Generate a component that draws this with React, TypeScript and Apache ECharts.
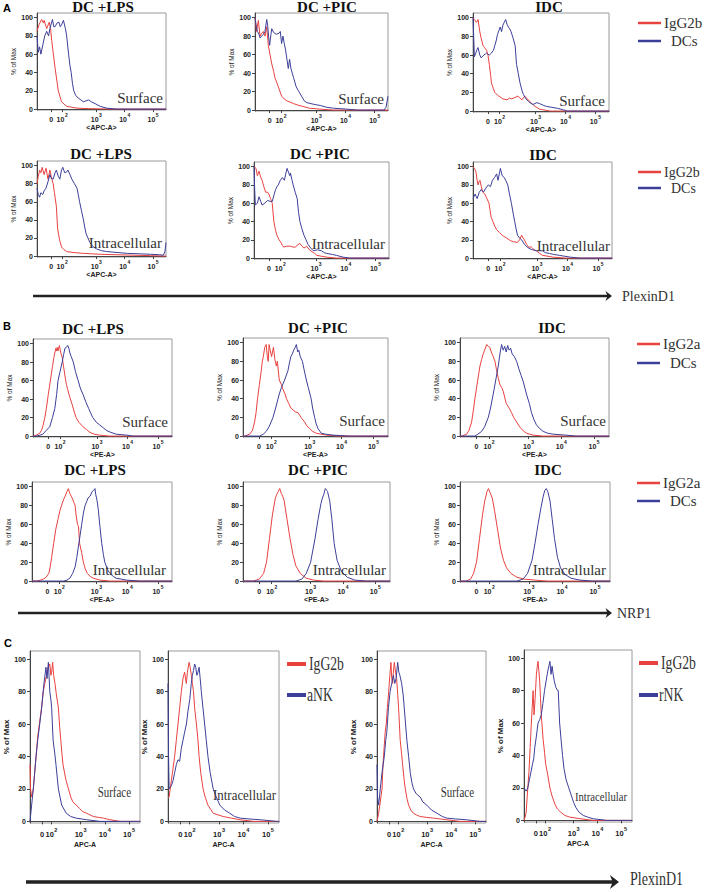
import React, { useEffect, useRef } from "react";
import * as echarts from "echarts";

// ---------- axis ticks ----------
const X_TICK_POS = [11, 19.5, 46, 68, 90];
const X_TICK_BASE = ["0", "10", "10", "10", "10"];
const X_TICK_EXP = ["", "2", "3", "4", "5"];
const Y_TICKS = [0, 20, 40, 60, 80, 100];

// ---------- data: [channel (0-100 display scale), % of Max] ----------
// Panel A, surface
const a1LpsIso = [[0,85],[1.5,92],[3.6,98],[5,94],[5.5,97],[7.5,88],[9.5,95],[10.5,88],[11.4,75],[12.5,62],[14,45],[15.5,30],[16.5,20],[19,8],[23,3],[27,2],[31,1],[40,0.5],[60,0],[100,0]];
const a1LpsDc = [[0,80],[1,62],[2,68],[3,60],[4.5,70],[6,80],[7.5,85],[9,80],[10,88],[12,98],[13,90],[14,90],[15.5,94],[17,95],[18,90],[19,92],[20.5,97],[22,88],[23,80],[24.5,60],[25.5,48],[26.5,40],[27.5,28],[28.5,20],[30,15],[32,12],[34,10],[36,8],[38,9],[40,10],[42,8],[45,6],[49,3],[54,1],[62,0],[100,0]];
const a1PicIso = [[0,100],[1.2,85],[2.5,97],[3.8,80],[5,83],[6.3,85],[7.5,80],[8.8,90],[10,70],[11.3,60],[12.6,50],[14,42],[15,35],[17.6,25],[20,15],[22,12],[24,10],[29,7],[33,5],[36,4],[41,2],[49,1],[59,0],[100,0]];
const a1PicDc = [[0,100],[1,90],[1.8,85],[3,82],[3.8,78],[5,80],[6.3,82],[7.5,85],[8.8,98],[9.5,92],[10.2,80],[11,70],[12,82],[12.6,88],[14,84],[16,82],[18,83],[19,85],[20,72],[21,80],[22,72],[23,65],[24,55],[25,45],[26,55],[27,45],[29,35],[31,25],[33,20],[35,15],[37,10],[39,8],[42,7],[45,6],[49,5],[54,3],[59,2],[69,1],[77,0],[97,0],[98.5,3],[100,15]];
const a1IdcIso = [[0,100],[1,98],[2.5,95],[3.7,98],[5,85],[6,78],[7.4,70],[8.5,68],[10,65],[11,60],[12,50],[13,38],[13.6,30],[15,24],[16,20],[18,17],[20,15],[22,13],[25,12],[27,14],[28,13],[30,14],[33,16],[34.5,14],[36,12],[38,16],[40,13],[42,10],[44,7],[45.7,5],[49,2],[53,1],[57,0],[100,0]];
const a1IdcDc = [[0,100],[0.5,80],[1,58],[2,62],[3,66],[3.7,68],[5,60],[6,57],[8,60],[10,62],[12,60],[13.5,62],[15,65],[16,70],[17,75],[18,82],[19,86],[20,90],[21,85],[22,92],[23,95],[24,98],[25,93],[26,90],[27,88],[28,85],[29.5,78],[31,70],[32,50],[33.3,40],[34.6,30],[36,22],[37,18],[39,13],[41,10],[44,7],[47,9],[49,8],[52,6],[54,5],[58,4],[62,3],[67,1],[69,0],[100,0]];
// Panel A, intracellular
const a2LpsIso = [[0,80],[1,88],[2,95],[3,92],[4,98],[5.5,90],[7,97],[8.5,85],[10,95],[11,88],[12.5,80],[13.5,70],[15,55],[16,30],[17.5,18],[19,10],[21,7],[23,5],[28,4],[36,3],[49,2],[62,1.5],[75,1],[88,0.5],[100,0]];
const a2LpsDc = [[0,75],[1,68],[2,65],[3,70],[4.5,68],[5.5,72],[7,75],[8.5,82],[10,90],[11,86],[12.5,85],[14,92],[15,95],[16.5,88],[17.7,85],[19,95],[20,98],[21.5,92],[23,93],[24,95],[25.5,90],[27,85],[29,80],[31,75],[32,68],[33,60],[34.5,50],[36,40],[37,32],[38,25],[39.5,20],[41,15],[43,11],[46,8],[50,6],[54,5],[62,4],[70,3],[80,2.5],[88,2],[95,1.5],[98,1],[99.2,5],[100,15]];
const a2PicIso = [[0,100],[1.5,98],[2.5,90],[3.7,95],[5,88],[6,85],[7.3,78],[8.6,72],[10,72],[11,70],[12.3,65],[13.5,60],[14.7,40],[16,30],[17,25],[18.5,20],[19.6,18],[21,14],[22,12],[24,13],[27,13],[29,12],[30.6,12],[32,14],[34,16],[35.5,13],[37,11],[38,12],[39,13],[41,9],[43,7],[45,5],[46.6,3],[50,2],[54,1],[61,0],[100,0]];
const a2PicDc = [[0,100],[0.5,75],[1,58],[2.5,60],[3.7,67],[5,62],[6,58],[8,60],[10,63],[12,62],[13.5,62],[15,70],[16,75],[17,78],[18,80],[19.5,85],[21,88],[22.5,85],[23.5,92],[24.5,98],[25.5,94],[26.5,90],[27,93],[28,86],[29,80],[30.5,72],[32,65],[33,50],[34,40],[35.5,32],[37,25],[38.5,20],[40,15],[42,11],[44,8],[47,9],[50,8],[52,6],[54,5],[58,4],[61,3],[66,1],[71,0],[100,0]];
const a2IdcIso = [[0,100],[1,98],[2,95],[3,85],[3.6,80],[4.5,84],[5,85],[6,78],[7,72],[8.5,70],[10,65],[11.5,60],[12.3,52],[13,45],[14.3,40],[15.6,35],[17,31],[19,28],[21,25],[24,22],[27,19],[29,18],[32,17],[33.5,20],[35,25],[36,22],[37,20],[38.5,15],[40,12],[42,12],[44,9],[45.6,8],[48,5],[50,3],[54,2],[57.5,1],[67,0],[100,0]];
const a2IdcDc = [[0,65],[1.5,70],[3,65],[4.5,72],[6,75],[7.5,72],[9,76],[11,80],[12.5,78],[14,85],[15.5,88],[17,92],[18,85],[19.7,98],[21,90],[22.5,88],[23.5,85],[25,80],[26,72],[27.6,60],[29,48],[30,40],[31,32],[32,25],[33.5,22],[35,20],[37,15],[39,12],[41,10],[43,9],[45.6,8],[48,8],[50,8],[52,6],[55,5],[58,4],[62,3],[66,2],[70,1],[77,0],[100,0]];
// Panel B, surface
const b1LpsIso = [[0,0],[2.4,1],[4.8,3],[6,6],[7,10],[8.5,20],[9.6,30],[11,45],[12,55],[13,65],[14,75],[15,85],[15.7,90],[16.5,95],[17,92],[17.5,96],[18,92],[19,98],[20,90],[21,85],[22,75],[23,65],[24,56],[25,50],[26.5,42],[28,35],[29.5,27],[31,20],[33,15],[36,10],[38.5,7],[41,4],[44,2],[48,1],[55,0],[100,0]];
const b1LpsDc = [[0,0],[2.4,0],[5,1],[7,2],[9.5,6],[12,10],[14,20],[15.7,30],[17,45],[18,60],[19.5,70],[21,80],[22,88],[23,95],[24,96],[25,98],[26,94],[26.5,90],[27.5,86],[29,80],[30.5,70],[32.5,60],[34,52],[36,45],[38,37],[40,30],[41.5,25],[43,20],[45.5,15],[48,12],[50.5,9],[53,6],[56,4],[60,2],[67.5,1],[72,0],[100,0]];
const b1PicIso = [[0,0],[1.2,0],[4.6,2],[6.5,6],[8,15],[9,25],[10,40],[11.3,55],[12.6,70],[13.3,80],[14,85],[15,95],[16,98],[16.8,85],[17.4,80],[18,98],[19,90],[19.7,85],[21,95],[22,82],[23,75],[23.7,80],[25,60],[26.5,55],[27.6,50],[29,45],[30,40],[31.5,35],[33,30],[34.5,28],[36,26],[38,25],[40,20],[42.5,15],[44,11],[46,8],[48,5],[50.6,3],[54,2],[57.5,1],[66.7,0],[100,0]];
const b1PicDc = [[0,0],[11.5,0],[14,2],[16,5],[18,10],[20.7,20],[22.5,30],[25,45],[26.5,52],[28.7,60],[31,70],[32,78],[33,85],[34,88],[35,92],[36,95],[36.8,98],[37.7,90],[38.5,92],[39.5,85],[41,80],[42,72],[43.7,60],[45,52],[47,40],[48,30],[49.4,20],[50.5,13],[51.7,8],[54,3],[57,2],[62,1],[73.6,0],[100,0]];
const b1IdcIso = [[0,0],[1.1,0],[4.5,2],[6,6],[7.8,15],[9,28],[10,40],[11.7,58],[13.4,75],[14.5,82],[15.6,88],[16.5,92],[17.9,98],[19,96],[20,95],[21,90],[22.3,85],[23.5,80],[24.6,70],[25.7,62],[26.8,55],[28,52],[29,48],[31,35],[33,30],[34.6,25],[36,20],[38,15],[39.5,11],[41,8],[43,5],[44.6,3],[49,1],[55.8,0],[100,0]];
const b1IdcDc = [[0,0],[10,0],[12,2],[14.5,5],[16.5,10],[19,20],[20.5,30],[22.3,45],[24,60],[25.7,75],[26.8,88],[27.9,98],[29,92],[30,96],[31,90],[32,97],[33,92],[34,94],[35,88],[36.5,85],[38,80],[39.5,72],[41,65],[42.5,58],[44.6,45],[46.5,35],[48,25],[49.5,18],[51.3,12],[53.5,8],[55.8,5],[59,3],[62.5,2],[71,1],[78,0],[100,0]];
// Panel B, intracellular
const b2LpsIso = [[0,0],[3.5,0],[6,1],[8,2],[10,4],[12,8],[13,15],[14,25],[15.5,40],[17,55],[18.5,65],[20,75],[21.5,82],[23,88],[23.7,90],[25,95],[26,98],[27,93],[28,90],[29,87],[30,83],[30.8,80],[31.5,70],[32.5,60],[33.2,58],[34,40],[35.5,30],[36.7,20],[38,13],[39.6,8],[41.5,5],[43.8,3],[48.6,1],[55.7,0],[100,0]];
const b2LpsDc = [[0,0],[22.5,0],[25,1],[27,3],[29,8],[30.8,15],[32,25],[33,35],[34.3,48],[35.5,60],[36.7,72],[37.9,80],[39,84],[40,88],[41.5,90],[43,95],[44,96],[45,98],[45.5,92],[46.5,85],[47.4,75],[48.5,58],[49.8,40],[51,28],[52,20],[54,12],[55.7,8],[58,5],[60,3],[64,2],[67.5,1],[77,0],[100,0]];
const b2PicIso = [[0,0],[7,0],[11,2],[14,8],[16,20],[18,45],[20,70],[22,88],[23,92],[24,95],[25,98],[26,93],[27,90],[28,85],[30,65],[32,45],[34,28],[36,16],[39,8],[43,3],[48,1],[55,0],[100,0]];
const b2PicDc = [[0,0],[36,0],[40,2],[43,8],[46,20],[49,45],[51,65],[53,82],[54,88],[55,92],[56,98],[57,96],[57.5,95],[59,85],[60.5,65],[62,40],[64,22],[67,10],[71,4],[76,1],[84,0],[100,0]];
const b2IdcIso = [[0,0],[4,0],[7,2],[9,8],[11,20],[13,45],[15,70],[16.5,85],[18,95],[19,98],[20,94],[21.5,88],[23,75],[25,55],[27,35],[29,22],[31,14],[34,8],[38,4],[43,2],[50,1],[58,0],[100,0]];
const b2IdcDc = [[0,0],[38,0],[42,2],[45,8],[48,22],[50,40],[52,60],[54,78],[55.5,90],[56.5,96],[57.5,98],[58.5,95],[60,85],[61.5,65],[63,45],[65,25],[67,14],[70,7],[74,3],[80,1],[88,0],[100,0]];
// Panel C
const c1SurfIso = [[0,35],[0.5,20],[1.5,15],[3,20],[4.5,32],[5.5,40],[7,52],[8.5,60],[9.5,65],[10.5,70],[12,80],[13.5,85],[15,90],[16.5,95],[18,97],[19,90],[19.7,92],[20.6,98],[21.5,90],[22.7,85],[24,78],[25.8,70],[27,58],[28,50],[29,42],[30,35],[32.5,26],[35,20],[37,15],[39,12],[42,10],[45,8],[48,6],[51.5,5],[57.6,3],[62,2.5],[66.7,2],[72.7,1],[82,0],[100,0]];
const c1SurfNk = [[0,0],[1.5,10],[3,20],[5.5,40],[7,50],[8.5,58],[10.6,70],[12.7,85],[14.5,95],[15.5,88],[16.7,98],[18,80],[19,75],[19.7,70],[21,50],[22.5,42],[23.6,35],[25.8,20],[28.8,10],[33,5],[37,3],[42,2],[51.5,1],[63.6,0],[100,0]];
const c2IntIso = [[0,15],[1,15],[3,25],[6,40],[7.5,50],[9,60],[10.5,70],[12,80],[13.5,88],[15,92],[16.5,85],[17.5,92],[19,98],[20,95],[21,90],[22,85],[23,80],[24,70],[25.6,60],[27,50],[28,40],[29.5,30],[31.6,20],[33.5,15],[36,10],[40.7,5],[45,4],[49.7,3],[57,2],[65,1],[77,0],[100,0]];
const c2IntNk = [[0,85],[0.5,40],[1,20],[3,22],[4.5,25],[6,30],[7.5,35],[9,38],[10.5,37],[12,45],[13.5,50],[15,55],[16.6,60],[18,68],[19.6,75],[21,85],[22,90],[23,93],[24,97],[25,95],[26,90],[27,92],[28,95],[29,88],[30,80],[31.5,70],[33,60],[34.5,50],[36,40],[38,30],[40.7,20],[43.5,15],[46.7,10],[51,7],[55.7,5],[60,3],[65,2],[73,1.5],[83,1],[98,0],[100,0]];
const c3SurfIso = [[0,0],[1.5,5],[3,12],[4.6,20],[5.5,35],[6.5,45],[7.5,55],[8.5,60],[9.5,70],[10.7,80],[11.8,90],[12.8,98],[13.5,88],[14.3,85],[15,92],[15.9,98],[17,92],[18,88],[19,78],[19.8,70],[21.3,50],[22.5,42],[23.5,35],[25,25],[26,20],[27.5,14],[29,10],[31,7],[33.5,5],[36,4],[39.6,3],[45,2.5],[52,2],[58,1.5],[64,1],[76,0],[100,0]];
const c3SurfNk = [[0,35],[0.5,15],[1.5,10],[3,20],[4.6,30],[6.7,40],[8,50],[9,55],[10.5,70],[12,80],[13.5,85],[15,90],[16.3,85],[17.5,88],[19,98],[20,92],[21,90],[22.6,85],[24,78],[25,70],[26.2,60],[27.4,50],[29,40],[30.5,30],[32,24],[33.5,20],[36,17],[39.6,15],[42,12],[45.7,10],[50,7],[55,5],[60,3],[64,2],[72,1.5],[82,1],[94.5,0],[100,0]];
const c4IntIso = [[0,0],[1,2],[2,5],[3,15],[4.6,30],[5.7,45],[6.8,60],[7.6,70],[8.4,80],[9.3,65],[10.3,75],[11.5,90],[12.3,95],[13,98],[13.8,92],[14.6,85],[15.3,75],[16,65],[16.8,58],[17.7,50],[19,42],[20,35],[22,28],[24,20],[26,15],[28.6,10],[31,7],[34,5],[38,3],[42.5,2],[52,1],[64,0],[100,0]];
const c4IntNk = [[0,20],[2,18],[3.5,20],[5,25],[6.5,30],[8,35],[9,38],[10,45],[11.5,52],[13,60],[14.5,62],[16,65],[17.5,72],[19,80],[20.5,86],[22,92],[23,95],[24,98],[25,90],[26,95],[27,90],[28,86],[29.5,82],[31,80],[31.7,80],[33,60],[34.3,50],[35.7,40],[37,32],[39,25],[41.5,20],[44,15],[46,11],[48,8],[51,5],[55,3],[59,2],[64,1],[76.7,0],[100,0]];

// ---------- layout ----------
const RED = "#e8423f";
const BLUE = "#3c3f99";
const SERIF = "'Liberation Serif', 'Times New Roman', serif";
const SANS = "'Liberation Sans', Arial, sans-serif";

type Panel = {
  l: number; t: number; r: number; b: number;
  red: number[][]; blue: number[][];
  xName: string; note: string; noteX: number; noteY: number;
  title?: string; titleX?: number; titleY?: number;
  c?: boolean; noteSize?: number; noteScale?: number;
};

const PANELS: Panel[] = [
  { l: 37, t: 13, r: 166, b: 110, red: a1LpsIso, blue: a1LpsDc, xName: "<APC-A>", note: "Surface", noteX: 163, noteY: 98, title: "DC +LPS", titleX: 103, titleY: 7 },
  { l: 255, t: 13, r: 388, b: 111, red: a1PicIso, blue: a1PicDc, xName: "<APC-A>", note: "Surface", noteX: 384, noteY: 99, title: "DC +PIC", titleX: 327, titleY: 7 },
  { l: 473, t: 13, r: 609, b: 112, red: a1IdcIso, blue: a1IdcDc, xName: "<APC-A>", note: "Surface", noteX: 605, noteY: 101, title: "IDC", titleX: 549, titleY: 7 },
  { l: 37, t: 161, r: 166, b: 257, red: a2LpsIso, blue: a2LpsDc, xName: "<APC-A>", note: "Intracellular", noteX: 162, noteY: 243, title: "DC +LPS", titleX: 101, titleY: 154 },
  { l: 254, t: 162, r: 389, b: 259, red: a2PicIso, blue: a2PicDc, xName: "<APC-A>", note: "Intracellular", noteX: 385, noteY: 244, title: "DC +PIC", titleX: 320, titleY: 154 },
  { l: 473, t: 162, r: 612, b: 259, red: a2IdcIso, blue: a2IdcDc, xName: "<APC-A>", note: "Intracellular", noteX: 610, noteY: 246, title: "IDC", titleX: 543, titleY: 155 },
  { l: 33, t: 339, r: 172, b: 437, red: b1LpsIso, blue: b1LpsDc, xName: "<PE-A>", note: "Surface", noteX: 168, noteY: 422, title: "DC +LPS", titleX: 93, titleY: 329 },
  { l: 243, t: 338, r: 388, b: 437, red: b1PicIso, blue: b1PicDc, xName: "<PE-A>", note: "Surface", noteX: 385, noteY: 421, title: "DC +PIC", titleX: 318, titleY: 328 },
  { l: 460, t: 338, r: 609, b: 437, red: b1IdcIso, blue: b1IdcDc, xName: "<PE-A>", note: "Surface", noteX: 606, noteY: 421, title: "IDC", titleX: 552, titleY: 328 },
  { l: 32, t: 482, r: 172, b: 582, red: b2LpsIso, blue: b2LpsDc, xName: "<PE-A>", note: "Intracellular", noteX: 166, noteY: 570, title: "DC +LPS", titleX: 95, titleY: 470 },
  { l: 243, t: 482, r: 390, b: 582, red: b2PicIso, blue: b2PicDc, xName: "<PE-A>", note: "Intracellular", noteX: 386, noteY: 570, title: "DC +PIC", titleX: 318, titleY: 470 },
  { l: 460, t: 482, r: 610, b: 582, red: b2IdcIso, blue: b2IdcDc, xName: "<PE-A>", note: "Intracellular", noteX: 606, noteY: 570, title: "IDC", titleX: 548, titleY: 470 },
  { l: 30, t: 651, r: 140, b: 823, red: c1SurfIso, blue: c1SurfNk, xName: "APC-A", note: "Surface", noteX: 131, noteY: 793, c: true, noteSize: 14, noteScale: 0.78 },
  { l: 168, t: 651, r: 279, b: 823, red: c2IntIso, blue: c2IntNk, xName: "APC-A", note: "Intracellular", noteX: 276, noteY: 795, c: true, noteSize: 15, noteScale: 0.86 },
  { l: 377, t: 651, r: 486, b: 823, red: c3SurfIso, blue: c3SurfNk, xName: "APC-A", note: "Surface", noteX: 474, noteY: 793, c: true, noteSize: 14, noteScale: 0.78 },
  { l: 524, t: 650, r: 632, b: 822, red: c4IntIso, blue: c4IntNk, xName: "APC-A", note: "Intracellular", noteX: 627, noteY: 797, c: true, noteSize: 13, noteScale: 0.82 },
];

type Legend = { x: number; y1: number; y2: number; iso: string; cell: string; cellDx: number; big?: boolean; fs?: number };
const LEGENDS: Legend[] = [
  { x: 638, y1: 23, y2: 41, iso: "IgG2b", cell: "DCs", cellDx: 33 },
  { x: 638, y1: 172, y2: 188, iso: "IgG2b", cell: "DCs", cellDx: 33, fs: 14 },
  { x: 637, y1: 344, y2: 363, iso: "IgG2a", cell: "DCs", cellDx: 33 },
  { x: 637, y1: 483, y2: 501, iso: "IgG2a", cell: "DCs", cellDx: 33 },
  { x: 287, y1: 664, y2: 695, iso: "IgG2b", cell: "aNK", cellDx: 20, big: true },
  { x: 639, y1: 663, y2: 695, iso: "IgG2b", cell: "rNK", cellDx: 20, big: true },
];

function buildOption() {
  const grid: any[] = [];
  const xAxis: any[] = [];
  const yAxis: any[] = [];
  const series: any[] = [];
  const graphic: any[] = [];

  const text = (x: number, y: number, s: string, o: any = {}) => ({
    type: "text", x, y, scaleX: o.scaleX ?? 1,
    style: {
      text: s, fill: o.fill ?? "#222", fontSize: o.fontSize ?? 12, fontFamily: o.fontFamily ?? SERIF,
      fontWeight: o.fontWeight ?? "normal",
      align: o.align ?? "left", textAlign: o.align ?? "left",
      verticalAlign: "middle", textVerticalAlign: "middle",
    },
  });

  PANELS.forEach((p, i) => {
    const tfs = p.c ? 7.5 : 7;
    grid.push({ left: p.l, top: p.t, width: p.r - p.l, height: p.b - p.t, show: true, borderColor: "#9a9a9a", borderWidth: 1, backgroundColor: "#fff" });
    xAxis.push({
      gridIndex: i, type: "value", min: 0, max: 100,
      axisLine: { show: true, lineStyle: { color: "#444", width: 1 } },
      axisTick: { show: true, customValues: X_TICK_POS, length: 3, lineStyle: { color: "#444" } },
      axisLabel: {
        customValues: X_TICK_POS, margin: p.c ? 4 : 2, color: "#222", fontFamily: SANS, fontWeight: "bold", fontSize: tfs,
        formatter: (v: number) => {
          const k = X_TICK_POS.findIndex((q) => Math.abs(q - v) < 0.01);
          if (k < 0) return "";
          return X_TICK_EXP[k] ? `{b|${X_TICK_BASE[k]}}{s|${X_TICK_EXP[k]}}` : `{b|${X_TICK_BASE[k]}}`;
        },
        rich: {
          b: { fontSize: tfs, fontWeight: "bold", fontFamily: SANS, color: "#222", lineHeight: 11, verticalAlign: "bottom" },
          s: { fontSize: tfs - 2, fontWeight: "bold", fontFamily: SANS, color: "#222", lineHeight: 11, verticalAlign: "top", padding: [0, 0, 0, 0.5] },
        },
      },
      splitLine: { show: false },
      name: p.xName, nameLocation: "middle", nameGap: p.c ? 18 : 13,
      nameTextStyle: { fontSize: 7, fontWeight: "bold", color: "#222", fontFamily: SANS },
    });
    yAxis.push({
      gridIndex: i, type: "value", min: -1, max: 105,
      axisLine: { show: true, lineStyle: { color: "#444", width: 1 } },
      axisTick: { show: true, customValues: Y_TICKS, length: 3, lineStyle: { color: "#444" } },
      axisLabel: { customValues: Y_TICKS, margin: 4, fontSize: 7, fontWeight: "bold", color: "#222", fontFamily: SANS },
      splitLine: { show: false },
      name: "% of Max", nameLocation: "middle", nameRotate: 90, nameGap: p.c ? 20 : 19,
      nameTextStyle: { fontSize: p.c ? 8 : 6.5, fontWeight: p.c ? "bold" : "normal", color: "#222", fontFamily: SANS },
    });
    series.push({ type: "line", name: "isotype", xAxisIndex: i, yAxisIndex: i, data: p.red, showSymbol: false, symbol: "none", silent: true, lineStyle: { color: RED, width: 1 }, z: 3 });
    series.push({ type: "line", name: "cells", xAxisIndex: i, yAxisIndex: i, data: p.blue, showSymbol: false, symbol: "none", silent: true, lineStyle: { color: BLUE, width: 1 }, z: 4 });

    if (p.title) graphic.push(text(p.titleX!, p.titleY!, p.title, { fontSize: 15, fontWeight: "bold", align: "center", fill: "#111" }));
    graphic.push({ ...text(p.noteX, p.noteY, p.note, { fontSize: p.noteSize ?? 15, align: "right", fill: "#333", scaleX: p.noteScale ?? 1 }), z: 50 });
  });

  LEGENDS.forEach((g) => {
    const lw = g.big ? 19 : 23;
    const fs = g.fs ?? (g.big ? 18 : 15);
    const sc = g.big ? 0.76 : 1;
    graphic.push({ type: "line", shape: { x1: g.x, y1: g.y1, x2: g.x + lw, y2: g.y1 }, style: { stroke: RED, lineWidth: g.big ? 4 : 2.5 } });
    graphic.push({ type: "line", shape: { x1: g.x, y1: g.y2, x2: g.x + lw, y2: g.y2 }, style: { stroke: BLUE, lineWidth: g.big ? 4 : 2.5 } });
    graphic.push(text(g.x + lw + 3, g.y1, g.iso, { fontSize: fs, fill: "#333", scaleX: sc }));
    graphic.push(text(g.x + (g.big ? lw + 1 : g.cellDx), g.y2, g.cell, { fontSize: fs, fill: "#333", scaleX: sc }));
  });

  // arrows
  const arrow = (x1: number, x2: number, y: number, w: number, h: number) => [
    { type: "line", shape: { x1, y1: y, x2: x2 - 4, y2: y }, style: { stroke: "#222", lineWidth: w } },
    { type: "polygon", shape: { points: [[x2 - h * 1.3, y - h], [x2, y], [x2 - h * 1.3, y + h], [x2 - h * 0.9, y]] }, style: { fill: "#222" } },
  ];
  graphic.push(...arrow(33, 612, 296, 2.5, 5));
  graphic.push(text(622, 296, "PlexinD1", { fontSize: 14, fill: "#333" }));
  graphic.push(...arrow(18, 612, 613, 2.5, 5));
  graphic.push(text(617, 613, "NRP1", { fontSize: 14, fill: "#333" }));
  graphic.push(...arrow(26, 619, 882, 3.5, 7));
  graphic.push(text(630, 879, "PlexinD1", { fontSize: 19, fill: "#333", scaleX: 0.74 }));

  // panel letters
  graphic.push(text(3, 8, "A", { fontSize: 11, fontWeight: "bold", fontFamily: SANS, fill: "#000" }));
  graphic.push(text(3, 326, "B", { fontSize: 11, fontWeight: "bold", fontFamily: SANS, fill: "#000" }));
  graphic.push(text(4, 643, "C", { fontSize: 11, fontWeight: "bold", fontFamily: SANS, fill: "#000" }));

  return { animation: false, backgroundColor: "#ffffff", grid, xAxis, yAxis, series, graphic };
}

export default function App() {
  const ref = useRef<HTMLDivElement>(null);
  useEffect(() => {
    document.body.style.margin = "0";
    if (!ref.current) return;
    const chart = echarts.init(ref.current, undefined, { renderer: "svg" });
    chart.setOption(buildOption() as any);
    return () => chart.dispose();
  }, []);
  return <div ref={ref} style={{ width: 708, height: 892 }} />;
}
